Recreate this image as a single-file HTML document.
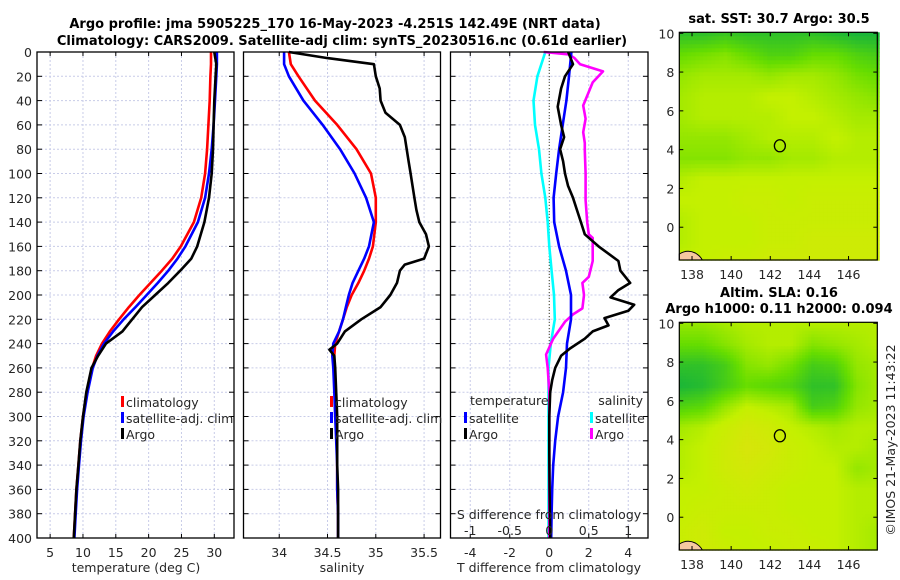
<!DOCTYPE html>
<html><head><meta charset="utf-8"><style>
html,body{margin:0;padding:0;background:#fff;}
svg{display:block;font-family:"DejaVu Sans","Liberation Sans",sans-serif;}
.tk{font-size:12.5px;fill:#262626;}
.tt{font-size:13px;font-weight:bold;fill:#000;}
</style></head><body>
<svg id="chart" width="900" height="580" viewBox="0 0 900 580" xmlns="http://www.w3.org/2000/svg">
<text class="tt" x="335" y="28" text-anchor="middle">Argo profile: jma 5905225_170 16-May-2023 -4.251S 142.49E (NRT data)</text>
<text class="tt" x="342" y="45" text-anchor="middle">Climatology: CARS2009. Satellite-adj clim: synTS_20230516.nc (0.61d earlier)</text>
<text class="tt" x="779" y="23" text-anchor="middle">sat. SST: 30.7 Argo: 30.5</text>
<text class="tt" x="779" y="297" text-anchor="middle">Altim. SLA: 0.16</text>
<text class="tt" x="779" y="313" text-anchor="middle">Argo h1000: 0.11 h2000: 0.094</text>
<text class="tk" x="0" y="0" transform="translate(895,440) rotate(-90)" text-anchor="middle">©IMOS 21-May-2023 11:43:22</text>
</svg>
<script>
// ---------------- data ----------------
const depthTicks = [0,20,40,60,80,100,120,140,160,180,200,220,240,260,280,300,320,340,360,380,400];
const tempTicks = [5,10,15,20,25,30];
const salTicks = [34,34.5,35,35.5];
const salTickLabels = ["34","34.5","35","35.5"];
const tdTicks = [-4,-2,0,2,4];
const sdTicks = [-1,-0.5,0,0.5,1];
const sdTickLabels = ["-1","-0.5","0","0.5","1"];
const lonTicks = [138,140,142,144,146];
const latTicks = [10,8,6,4,2,0];

const tsDepths = [0,10,20,40,60,80,100,120,140,160,170,180,190,200,210,220,230,240,250,260,280,300,320,340,360,380,400];
const climT = [29.5,29.5,29.4,29.3,29.1,28.9,28.6,28.0,26.9,24.9,23.6,22.0,20.3,18.6,17.0,15.5,14.1,12.9,12.0,11.4,10.6,10.0,9.6,9.3,9.0,8.8,8.6];
const satT = [30.4,30.4,30.3,30.1,29.9,29.6,29.2,28.6,27.5,25.6,24.4,23.0,21.4,19.7,18.0,16.2,14.6,13.2,12.2,11.5,10.7,10.1,9.7,9.4,9.1,8.9,8.7];
const argoT = [30.0,30.3,30.2,30.0,29.9,29.8,29.6,29.2,28.5,27.4,26.5,24.8,23.0,21.0,19.0,17.5,16.0,13.5,12.3,11.3,10.5,10.0,9.6,9.3,9.0,8.8,8.6];
const climS = [34.1,34.12,34.2,34.37,34.6,34.8,34.95,35.0,35.0,34.97,34.93,34.88,34.82,34.75,34.7,34.66,34.62,34.58,34.57,34.57,34.58,34.59,34.6,34.6,34.6,34.61,34.61];
const satS = [34.05,34.05,34.1,34.25,34.45,34.63,34.78,34.9,34.98,34.93,34.88,34.82,34.76,34.72,34.69,34.66,34.62,34.56,34.55,34.56,34.57,34.58,34.59,34.6,34.6,34.61,34.61];
const argoSDepths = [0,5,10,20,30,40,50,60,70,80,90,100,110,120,130,140,150,160,170,175,180,190,200,210,220,230,240,245,250,260,280,300,320,340,360,380,400];
const argoS = [34.1,34.5,34.98,35.0,35.04,35.05,35.1,35.25,35.3,35.32,35.34,35.36,35.38,35.4,35.42,35.45,35.52,35.55,35.5,35.3,35.25,35.22,35.15,35.05,34.85,34.68,34.6,34.52,34.57,34.58,34.59,34.6,34.6,34.6,34.61,34.61,34.61];

const tdSatDepths = [0,20,40,60,80,100,120,140,160,180,200,220,240,260,280,300,320,340,360,380,400];
const tdSat = [1.12,1.0,0.87,0.68,0.5,0.35,0.22,0.25,0.5,0.85,1.1,1.1,0.9,0.85,0.7,0.45,0.3,0.2,0.15,0.12,0.1];
const tdArgoDepths = [0,10,20,30,45,60,70,80,90,100,110,120,130,140,150,160,172,180,190,196,202,208,213,219,225,230,236,244,250,260,270,280,300,330,360,400];
const tdArgo = [0.96,1.2,0.8,0.6,0.43,0.6,0.75,0.55,0.7,0.8,0.95,1.2,1.4,1.6,1.8,2.5,3.5,3.6,4.1,3.5,3.1,4.3,4.0,2.8,3.0,2.2,1.8,1.05,0.6,0.3,0.15,0.05,0.0,0.0,0.02,0.05];
const sdSatDepths = [0,20,40,60,80,100,120,140,160,180,200,220,240,260,300,350,400];
const sdSat = [-0.05,-0.15,-0.2,-0.18,-0.13,-0.1,-0.05,-0.02,0.0,0.03,0.06,0.07,0.02,-0.01,-0.01,-0.01,-0.01];
const sdArgoDepths = [0,2,5,10,16,25,44,55,66,75,81,100,122,140,150,153,172,185,190,200,211,216,222,236,249,260,280,320,360,400];
const sdArgo = [-0.07,0.25,0.32,0.39,0.68,0.55,0.43,0.46,0.43,0.45,0.45,0.46,0.46,0.48,0.5,0.55,0.55,0.5,0.42,0.44,0.42,0.3,0.2,0.05,-0.04,-0.02,0.0,0.0,0.0,0.0];

const sstGrid = [
[0.85,0.85,0.8,0.85,0.85,0.85,0.85,0.9,0.95,0.95],
[0.6,0.55,0.5,0.6,0.7,0.7,0.6,0.6,0.7,0.75],
[0.45,0.4,0.4,0.4,0.45,0.4,0.4,0.45,0.55,0.6],
[0.4,0.35,0.35,0.35,0.3,0.3,0.35,0.4,0.45,0.5],
[0.4,0.35,0.35,0.35,0.35,0.3,0.3,0.35,0.4,0.4],
[0.45,0.45,0.45,0.4,0.35,0.35,0.35,0.3,0.35,0.35],
[0.5,0.5,0.5,0.45,0.45,0.4,0.4,0.35,0.35,0.35],
[0.35,0.3,0.3,0.3,0.3,0.3,0.3,0.3,0.3,0.3],
[0.3,0.3,0.3,0.25,0.25,0.3,0.25,0.25,0.25,0.25],
[0.35,0.3,0.3,0.3,0.25,0.25,0.25,0.25,0.25,0.25],
[0.35,0.3,0.3,0.3,0.25,0.25,0.2,0.2,0.2,0.2],
[0.3,0.3,0.25,0.25,0.2,0.2,0.2,0.2,0.2,0.2]];
const slaGrid = [
[0.45,0.45,0.4,0.35,0.35,0.35,0.35,0.35,0.35,0.35],
[0.6,0.6,0.5,0.4,0.35,0.35,0.5,0.45,0.4,0.35],
[0.85,0.85,0.75,0.5,0.45,0.55,0.75,0.7,0.45,0.4],
[0.95,0.9,0.75,0.6,0.65,0.7,0.85,0.85,0.5,0.4],
[0.7,0.65,0.45,0.3,0.35,0.4,0.75,0.7,0.45,0.4],
[0.4,0.35,0.25,0.15,0.2,0.3,0.35,0.4,0.35,0.35],
[0.35,0.3,0.2,0.1,0.15,0.25,0.3,0.35,0.35,0.4],
[0.35,0.3,0.2,0.15,0.2,0.25,0.3,0.3,0.45,0.4],
[0.3,0.3,0.25,0.2,0.25,0.3,0.3,0.3,0.35,0.35],
[0.3,0.25,0.25,0.25,0.25,0.3,0.3,0.3,0.35,0.35],
[0.25,0.2,0.3,0.3,0.25,0.25,0.3,0.3,0.35,0.4],
[0.25,0.2,0.25,0.3,0.3,0.25,0.25,0.3,0.35,0.4]];
const argoLon = 142.49, argoLat = 4.2;

// ---------------- drawing ----------------
const NS = "http://www.w3.org/2000/svg";
const svg = document.getElementById('chart');
function el(tag, attrs, parent){ const e=document.createElementNS(NS,tag); for(const k in attrs) e.setAttribute(k,attrs[k]); (parent||svg).appendChild(e); return e; }
function txt(x,y,s,cls,anchor){ const t=el('text',{x:x,y:y,class:cls||'tk','text-anchor':anchor||'middle'}); t.textContent=s; return t; }

const TOP=52, BOT=538;
const yD = d => TOP + d*(BOT-TOP)/400;
function lin(d0,d1,r0,r1){ return v => r0 + (v-d0)*(r1-r0)/(d1-d0); }

const panels = [
  {x0:37, x1:234, name:'temperature-panel', xs:lin(3,33,37,234)},
  {x0:243.5, x1:440.5, name:'salinity-panel', xs:lin(33.63,35.67,243.5,440.5)},
  {x0:450.5, x1:648, name:'difference-panel', xs:lin(-5,5,450.5,648)}
];
const sdX = lin(-1.25,1.25,450.5,648);

function gridAndFrame(p, xticks, xf){
  const g = el('g',{});
  
  
  xticks.forEach(v=>{ const x=xf(v); el('line',{x1:x,x2:x,y1:TOP,y2:BOT,stroke:'#c8cce8','stroke-dasharray':'2,2','stroke-width':1},g);
    el('line',{x1:x,x2:x,y1:BOT,y2:BOT-4,stroke:'#000'},g); el('line',{x1:x,x2:x,y1:TOP,y2:TOP+4,stroke:'#000'},g);});
  depthTicks.forEach(d=>{ const y=yD(d); el('line',{x1:p.x0,x2:p.x1,y1:y,y2:y,stroke:'#c8cce8','stroke-dasharray':'2,2','stroke-width':1},g);
    el('line',{x1:p.x0,x2:p.x0+5,y1:y,y2:y,stroke:'#000'},g); el('line',{x1:p.x1,x2:p.x1-5,y1:y,y2:y,stroke:'#000'},g);});
}
function frame(p){
  const r = el('rect',{x:p.x0,y:TOP,width:p.x1-p.x0,height:BOT-TOP,fill:'none',stroke:'#000','stroke-width':1.3});
  
  
}
function line(depths, vals, xf, color, name, w){
  const pts = depths.map((d,i)=>xf(vals[i]).toFixed(1)+','+yD(d).toFixed(1)).join(' ');
  const pl = el('polyline',{points:pts,fill:'none',stroke:color,'stroke-width':w||2.6,'stroke-linejoin':'round'});
  
  
}
function legend(x,y,color,label,name){
  const g = el('g',{});
  
  
  el('rect',{x:x,y:y-11,width:3,height:11,fill:color},g);
  const t = el('text',{x:x+5,y:y,class:'tk','text-anchor':'start'},g); t.textContent=label;
}

// Panel 1
const p1=panels[0];
gridAndFrame(p1,tempTicks,p1.xs);
line(tsDepths,climT,p1.xs,'#ff0000','climatology-temperature-line');
line(tsDepths,satT,p1.xs,'#0000ff','satellite-temperature-line');
line(tsDepths,argoT,p1.xs,'#000000','argo-temperature-line');
frame(p1);
tempTicks.forEach(v=>txt(p1.xs(v),557,String(v)));
depthTicks.forEach(d=>txt(32,yD(d)+5,String(d),'tk','end'));
txt(136,572,'temperature (deg C)');
legend(121,407,'#ff0000','climatology','legend-climatology');
legend(121,423,'#0000ff','satellite-adj. clim','legend-satellite');
legend(121,439,'#000000','Argo','legend-argo');

// Panel 2
const p2=panels[1];
gridAndFrame(p2,salTicks,p2.xs);
line(tsDepths,climS,p2.xs,'#ff0000','climatology-salinity-line');
line(tsDepths,satS,p2.xs,'#0000ff','satellite-salinity-line');
line(argoSDepths,argoS,p2.xs,'#000000','argo-salinity-line');
frame(p2);
salTicks.forEach((v,i)=>txt(p2.xs(v),557,salTickLabels[i]));
txt(342,572,'salinity');
legend(330,407,'#ff0000','climatology','legend-s-climatology');
legend(330,423,'#0000ff','satellite-adj. clim','legend-s-satellite');
legend(330,439,'#000000','Argo','legend-s-argo');

// Panel 3
const p3=panels[2];
gridAndFrame(p3,tdTicks,p3.xs);
const z = el('line',{x1:p3.xs(0),x2:p3.xs(0),y1:TOP,y2:yD(330),stroke:'#444422','stroke-dasharray':'1,2','stroke-width':1});


line(sdSatDepths,sdSat,sdX,'#00ffff','satellite-salinity-diff-line');
line(sdArgoDepths,sdArgo,sdX,'#ff00ff','argo-salinity-diff-line');
line(tdSatDepths,tdSat,p3.xs,'#0000ff','satellite-temperature-diff-line');
line(tdArgoDepths,tdArgo,p3.xs,'#000000','argo-temperature-diff-line');
frame(p3);
tdTicks.forEach(v=>txt(p3.xs(v),557,String(v)));
txt(549,572,'T difference from climatology');
txt(549,519,'S difference from climatology');
sdTicks.forEach((v,i)=>txt(sdX(v),535,sdTickLabels[i]));
txt(470,405,'temperature','tk','start');
txt(643,405,'salinity','tk','end');
legend(464,423,'#0000ff','satellite','legend-t-satellite');
legend(464,439,'#000000','Argo','legend-t-argo');
legend(590,423,'#00ffff','satellite','legend-sd-satellite');
legend(590,439,'#ff00ff','Argo','legend-sd-argo');

// ---------------- maps ----------------
const stops=[[0,[224,224,16]],[0.3,[196,240,0]],[0.6,[102,221,0]],[1,[16,176,64]]];
function cmap(v){ v=Math.max(0,Math.min(1,v)); for(let i=1;i<stops.length;i++){ if(v<=stops[i][0]){ const a=stops[i-1],b=stops[i],t=(v-a[0])/(b[0]-a[0]); return 'rgb('+a[1].map((c,k)=>Math.round(c+(b[1][k]-c)*t)).join(',')+')'; } } return 'rgb(16,176,64)'; }
function sample(G,fx,fy){
  const R=G.length-1,C=G[0].length-1; let x=fx*C,y=fy*R;
  const x0=Math.floor(x),y0=Math.floor(y),x1=Math.min(C,x0+1),y1=Math.min(R,y0+1),tx=x-x0,ty=y-y0;
  return (G[y0][x0]*(1-tx)+G[y0][x1]*tx)*(1-ty)+(G[y1][x0]*(1-tx)+G[y1][x1]*tx)*ty;
}
function drawMap(top,G,name,cell){
  const L=679.3,R=877.3,B=top+227.7;
  const lx=lin(137.35,147.47,L,R), ly=lin(10.05,-1.69,top,B);
  const g=el('g',{});
  
  
  for(let y=top;y<B;y+=cell){ for(let x=L;x<R;x+=cell){
    const v=sample(G,(x-L)/(R-L),(y-top)/(B-top));
    el('rect',{x:x.toFixed(1),y:y.toFixed(1),width:cell+0.4,height:cell+0.4,fill:cmap(v)},g);
  }}
  const c=el('path',{d:`M${L} ${B} L${L} ${B-6} Q${L+8} ${B-11} ${L+16} ${B-7} Q${L+21} ${B-4} ${L+23} ${B} Z`,fill:'#f5c8a0',stroke:'#000','stroke-width':1},g);
  
  
  const m=el('ellipse',{cx:lx(argoLon),cy:ly(argoLat),rx:5.5,ry:6,fill:'none',stroke:'#000','stroke-width':1.3},g);
  
  
  el('rect',{x:L,y:top,width:R-L,height:B-top,fill:'none',stroke:'#000','stroke-width':1.2},g);
  lonTicks.forEach(v=>{ const x=lx(v); el('line',{x1:x,x2:x,y1:B,y2:B-4,stroke:'#000'},g); el('line',{x1:x,x2:x,y1:top,y2:top+4,stroke:'#000'},g); txt(x,B+19,String(v)); });
  latTicks.forEach(v=>{ const y=ly(v); el('line',{x1:L,x2:L+4,y1:y,y2:y,stroke:'#000'},g); el('line',{x1:R,x2:R-4,y1:y,y2:y,stroke:'#000'},g); txt(L-5,y+5,String(v),'tk','end'); });
}
drawMap(32.3,sstGrid,'sst-map',4);
drawMap(322.3,slaGrid,'sla-map',3);
</script>
</body></html>
